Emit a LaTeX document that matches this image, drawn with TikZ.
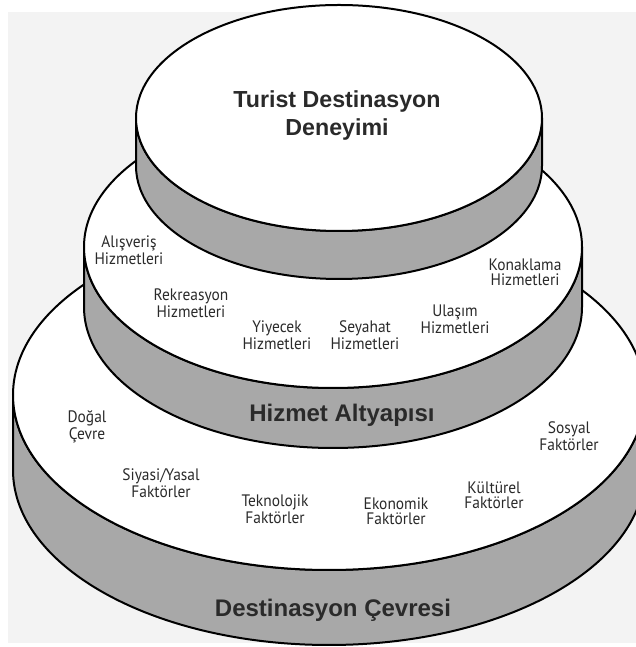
\documentclass[tikz,border=0pt]{standalone}
\usepackage{fontspec}
\setmainfont{Liberation Sans}
\newfontfamily\dinfont[FakeStretch=0.93]{PT Sans}
\definecolor{bandgray}{HTML}{A8A8A8}
\definecolor{bggray}{HTML}{F3F3F3}
\definecolor{labelgray}{HTML}{2A2A2A}

\begin{document}
\begin{tikzpicture}[x=0.5pt,y=0.5pt,line width=1pt,
    band/.style={fill=bandgray,draw=black,line join=round},
    face/.style={fill=white,draw=black},
    small label/.style={align=center,text=labelgray,inner sep=0pt,font=\dinfont\fontsize{8.3}{7.5}\selectfont},
    big label/.style={align=center,text=labelgray,inner sep=0pt,font=\bfseries\fontsize{12}{14}\selectfont}]

    \useasboundingbox (0,0) rectangle (636,647);
    \fill[white] (0,0) rectangle (636,647);
    \fill[bggray] (8,4) rectangle (636,635);
    \clip (0,0) rectangle (636,647);

    % bottom layer
    \draw[band] (13,252) -- (13,177) arc (180:360:316 and 175) -- (645,252) arc (0:-180:316 and 175) -- cycle;
    \draw[face] (329,252) ellipse (316 and 175);

    % middle layer
    \draw[band] (84,400) -- (84,340) arc (180:360:249 and 141) -- (582,400) arc (0:-180:249 and 141) -- cycle;
    \draw[face] (333,400) ellipse (249 and 141);

    % top layer
    \draw[band] (136,529) -- (136,481) arc (180:360:203 and 113) -- (542,529) arc (0:-180:203 and 113) -- cycle;
    \draw[face] (339,529) ellipse (203 and 113);

    \node[big label,font=\bfseries\fontsize{11.6}{14}\selectfont] (deneyim) at (337,531) {Turist Destinasyon\\Deneyimi};

    \node[small label] (alisveris) at (129,397) {Alışveriş\\Hizmetleri};
    \node[small label] (konaklama) at (525,375) {Konaklama\\Hizmetleri};
    \node[small label] (rekreasyon) at (191,344) {Rekreasyon\\Hizmetleri};
    \node[small label] (ulasim) at (455,328) {Ulaşım\\Hizmetleri};
    \node[small label] (yiyecek) at (277,312) {Yiyecek\\Hizmetleri};
    \node[small label] (seyahat) at (365,312) {Seyahat\\Hizmetleri};
    \node[big label] (altyapi) at (342,232) {Hizmet Altyapısı};

    \node[small label] (dogal) at (87,220) {Doğal\\Çevre};
    \node[small label] (sosyal) at (569,211) {Sosyal\\Faktörler};
    \node[small label] (siyasi) at (161,164) {Siyasi/Yasal\\Faktörler};
    \node[small label] (teknolojik) at (275,138) {Teknolojik\\Faktörler};
    \node[small label] (ekonomik) at (396,136) {Ekonomik\\Faktörler};
    \node[small label] (kulturel) at (494,152) {Kültürel\\Faktörler};
    \node[big label] (cevre) at (333,37) {Destinasyon Çevresi};
\end{tikzpicture}
\end{document}
